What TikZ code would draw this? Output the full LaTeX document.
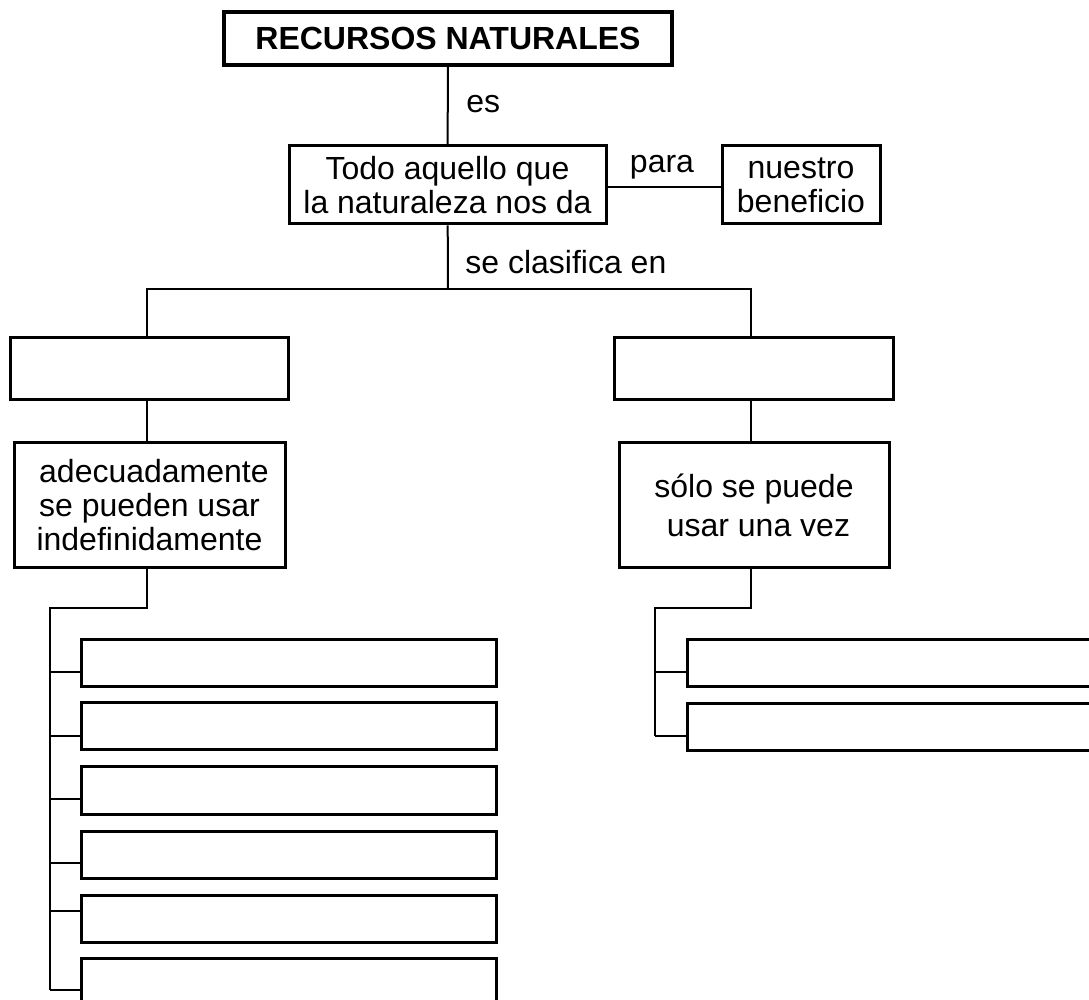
\documentclass[tikz,border=0pt]{standalone}
\usepackage{fontspec}
\setmainfont{Liberation Sans}
\usetikzlibrary{positioning, calc}
\tikzstyle{box} = [draw, line width=1.5pt, inner sep=0pt, align=center, font=\fontsize{16}{17}\selectfont]
\tikzstyle{line} = [line width=1pt]
\tikzstyle{lbl} = [inner sep=0pt, font=\fontsize{16}{17}\selectfont]

\begin{document}
\begin{tikzpicture}[x=0.5pt, y=-0.5pt]
\useasboundingbox (0,0) rectangle (1089,1000);
\clip (0,0) rectangle (1089,1000);

% Title
\node[box, line width=2pt, minimum width=224pt, minimum height=26.5pt, font=\bfseries\fontsize{16}{17}\selectfont] (title) at (448,38.5) {RECURSOS NATURALES};

% Definition
\node[box, minimum width=158.5pt, minimum height=39pt] (todo) at (447.5,185) {Todo aquello que~\\la naturaleza nos da};
\node[box, minimum width=79pt, minimum height=39pt] (benef) at (801,185) {nuestro~\\beneficio};
\draw[line] (title) -- (todo);
\node[lbl, anchor=base west] (es) at (466,113) {es};
\draw[line] ([yshift=-1pt]todo.east) -- ([yshift=-1pt]benef.west);
\node[lbl, anchor=base] (para) at (662,173) {para};

% Classification
\coordinate (hub) at (448,289);
\coordinate (hubL) at (147,289);
\coordinate (hubR) at (751,289);
\draw[line] (todo) -- (hub);
\node[lbl, anchor=base west] (clasif) at (465,274) {se clasifica en};

\node[box, minimum width=139pt, minimum height=31pt] (renov) at (149,369) {};
\node[box, minimum width=139.5pt, minimum height=31pt] (norenov) at (753.5,369) {};
\draw[line] (hubL |- renov.north) -- (hubL) -- (hubR) -- (hubR |- norenov.north);

% Descriptions
\node[box, minimum width=135.5pt, minimum height=62.5pt] (renovtxt) at (149.5,505.5) {~adecuadamente\\se pueden usar\\indefinidamente};
\node[box, minimum width=135pt, minimum height=62.5pt, font=\fontsize{16}{19.5}\selectfont] (norenovtxt) at (754,505.5) {sólo se puede\\~usar una vez};
\draw[line] (hubL |- renov.south) -- (hubL |- renovtxt.north);
\draw[line] (hubR |- norenov.south) -- (hubR |- norenovtxt.north);

% Left list
\node[box, minimum width=207.5pt, minimum height=23.5pt] (listL1) at (288.5,663.5) {};
\node[box, minimum width=207.5pt, minimum height=23.5pt] (listL2) at (288.5,726.5) {};
\node[box, minimum width=207.5pt, minimum height=23.5pt] (listL3) at (288.5,790.5) {};
\node[box, minimum width=207.5pt, minimum height=23.5pt] (listL4) at (288.5,854.5) {};
\node[box, minimum width=207.5pt, minimum height=23.5pt] (listL5) at (288.5,918.5) {};
\node[box, minimum width=207.5pt, minimum height=23.5pt] (listL6) at (288.5,981.5) {};
\coordinate (forkL) at (147,608);
\coordinate (railL) at (50,608);
\coordinate (tL1) at (50,672);
\coordinate (tL2) at (50,736);
\coordinate (tL3) at (50,799);
\coordinate (tL4) at (50,863);
\coordinate (tL5) at (50,911);
\coordinate (tL6) at (50,990);
\draw[line] (hubL |- renovtxt.south) -- (forkL) -- (railL) -- (tL6);
\draw[line] (tL1) -- (tL1 -| listL1.west);
\draw[line] (tL2) -- (tL2 -| listL2.west);
\draw[line] (tL3) -- (tL3 -| listL3.west);
\draw[line] (tL4) -- (tL4 -| listL4.west);
\draw[line] (tL5) -- (tL5 -| listL5.west);
\draw[line] (tL6) -- (tL6 -| listL6.west);

% Right list
\node[box, minimum width=207.5pt, minimum height=23.5pt] (listR1) at (894.5,663.5) {};
\node[box, minimum width=207.5pt, minimum height=23.5pt] (listR2) at (894.5,727) {};
\coordinate (forkR) at (751,608);
\coordinate (railR) at (655,608);
\coordinate (tR1) at (655,672);
\coordinate (tR2) at (655,736);
\draw[line] (hubR |- norenovtxt.south) -- (forkR) -- (railR) -- (tR2);
\draw[line] (tR1) -- (tR1 -| listR1.west);
\draw[line] (tR2) -- (tR2 -| listR2.west);
\end{tikzpicture}
\end{document}
